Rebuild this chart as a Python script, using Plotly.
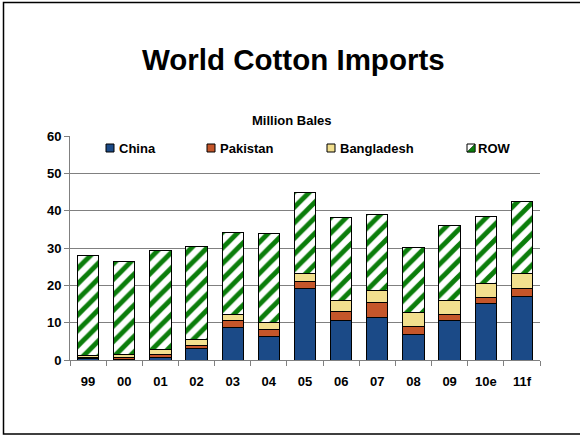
import plotly.graph_objects as go

years = ["99", "00", "01", "02", "03", "04", "05", "06", "07", "08", "09", "10e", "11f"]
china = [0.3, 0.2, 0.6, 3.0, 8.6, 6.2, 19.1, 10.6, 11.5, 6.9, 10.7, 15.2, 16.9]
pakistan = [0.4, 0.6, 0.8, 1.0, 2.0, 1.9, 1.8, 2.3, 3.9, 2.0, 1.6, 1.5, 2.2]
bangladesh = [0.6, 0.7, 1.3, 1.6, 1.7, 2.0, 2.4, 3.0, 3.3, 3.7, 3.6, 3.9, 4.0]
row = [26.7, 24.8, 26.5, 24.8, 21.8, 23.7, 21.5, 22.2, 20.4, 17.5, 20.0, 17.8, 19.3]
y_ticks = [0, 10, 20, 30, 40, 50, 60]
series_names = ["China", "Pakistan", "Bangladesh", "ROW"]

W, H = 580, 437
L, R, T, B = 70, 40, 136, 77
pw, ph = W - L - R, H - T - B


def px(x):
    return (x - L) / pw


def py(y):
    return (H - B - y) / ph


font = "Liberation Sans, Arial, sans-serif"
outline = dict(color="#000000", width=1)
colors = ["#1B4A87", "#C5562A", "#F2DF8E", "#FFFFFF"]
green = "#0B7D0B"

fig = go.Figure()
fig.add_bar(x=years, y=china, name=series_names[0], marker=dict(color=colors[0], line=outline))
fig.add_bar(x=years, y=pakistan, name=series_names[1], marker=dict(color=colors[1], line=outline))
fig.add_bar(x=years, y=bangladesh, name=series_names[2], marker=dict(color=colors[2], line=outline))
fig.add_bar(x=years, y=row, name=series_names[3],
            marker=dict(color=colors[3], line=outline,
                        pattern=dict(shape="/", fgcolor=green, bgcolor="#FFFFFF",
                                     size=11, solidity=0.45, fgopacity=1)))

# manual legend (marker squares + text) placed like the reference
legend_marker_left = [106, 207, 327, 467]
legend_text_left = [117, 218, 338, 476]
mk_top, mk_bot, mk_w = 144, 152, 8
shapes = []
annotations = []
for i, name in enumerate(series_names):
    x0 = legend_marker_left[i]
    shapes.append(dict(type="rect", xref="paper", yref="paper",
                       x0=px(x0), x1=px(x0 + mk_w), y0=py(mk_bot), y1=py(mk_top),
                       fillcolor=colors[i], line=dict(color="#000000", width=1)))
    if name == "ROW":
        shapes.append(dict(type="path", xref="paper", yref="paper",
                           path=f"M {px(x0)} {py(mk_bot)} L {px(x0 + mk_w)} {py(mk_top)} "
                                f"L {px(x0 + mk_w)} {py(mk_bot)} Z",
                           fillcolor=green, line=dict(color="#000000", width=0.5)))
    annotations.append(dict(text=name, x=px(legend_text_left[i]), y=py((mk_top + mk_bot) / 2),
                            xref="paper", yref="paper", showarrow=False,
                            xanchor="left", yanchor="middle",
                            font=dict(family=font, size=13, color="#000000", weight="bold")))

annotations += [
    dict(text="World Cotton Imports", x=px(293), y=py(59), xref="paper", yref="paper",
         showarrow=False, xanchor="center", yanchor="middle",
         font=dict(family=font, size=29.5, color="#000000", weight="bold")),
    dict(text="Million Bales", x=px(291), y=py(120), xref="paper", yref="paper",
         showarrow=False, xanchor="center", yanchor="middle",
         font=dict(family=font, size=13, color="#000000", weight="bold")),
]
shapes.append(dict(type="rect", xref="paper", yref="paper", x0=px(3.5), x1=px(600),
                   y0=py(434), y1=py(2.5), line=dict(color="#000000", width=1.5), layer="below"))

fig.update_layout(
    width=W, height=H,
    margin=dict(l=L, r=R, t=T, b=B),
    barmode="stack", bargap=0.41,
    paper_bgcolor="#FFFFFF", plot_bgcolor="#FFFFFF",
    font=dict(family=font, size=13, color="#000000"),
    showlegend=False,
    xaxis=dict(showgrid=False, showline=True, linecolor="#808080", linewidth=1,
               ticks="outside", tickson="boundaries", ticklen=5, tickcolor="#808080",
               ticklabelstandoff=9,
               tickfont=dict(family=font, size=13, color="#000000", weight="bold")),
    yaxis=dict(range=[0, 60], tickvals=y_ticks, showgrid=True, gridcolor="#808080", gridwidth=1,
               showline=True, linecolor="#808080", linewidth=1, ticks="outside", ticklen=5,
               tickcolor="#808080", zeroline=False,
               tickfont=dict(family=font, size=13, color="#000000", weight="bold")),
    annotations=annotations,
    shapes=shapes,
)

fig.write_html("out.html", config={"displayModeBar": False},
               post_script="document.body.style.margin='0';")
